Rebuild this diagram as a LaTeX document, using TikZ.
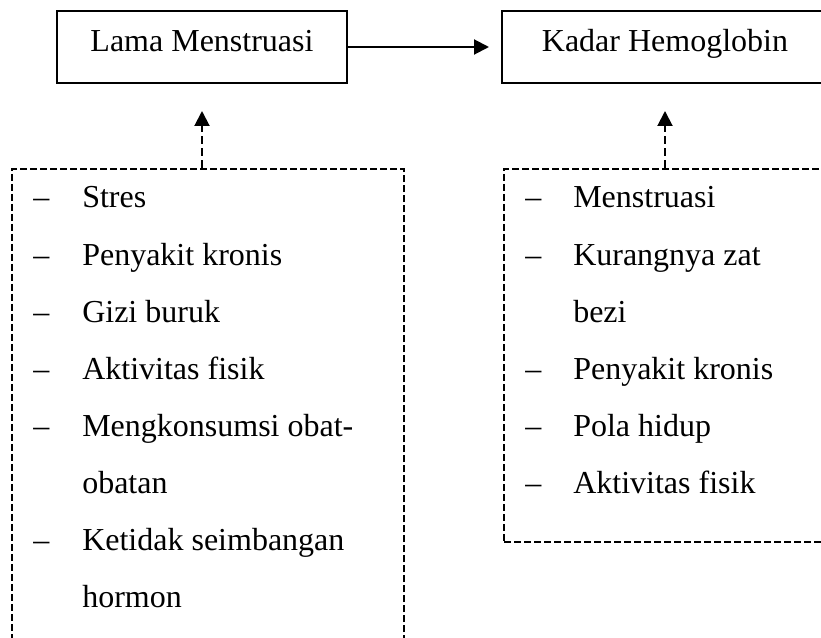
\documentclass[tikz,border=0pt]{standalone}
\usepackage{fontspec}
\setmainfont{Liberation Serif}
\usetikzlibrary{arrows.meta}

\tikzset{
  mainbox/.style={draw, line width=1.5pt, inner sep=0pt, text height=16.5pt, text depth=9pt, minimum height=54pt},
  factorbox/.style={draw, line width=1.5pt, dash pattern=on 5.25pt off 2.25pt, inner sep=0pt},
  item/.style={inner sep=0pt, anchor=base west},
  solidarrow/.style={line width=1.5pt, -{Triangle[length=11.25pt, width=11.25pt]}},
  dasharrow/.style={line width=1.5pt, dash pattern=on 6pt off 3pt, -{Triangle[length=11.25pt, width=11.25pt]}}
}

\begin{document}
\begin{tikzpicture}[x=0.75pt, y=-0.75pt, font=\fontsize{24pt}{28pt}\selectfont]
\useasboundingbox (0,0) rectangle (821,638);
\clip (0,0) rectangle (821,638);
    \node[mainbox, minimum width=217.5pt] (lama) at (202,47) {Lama Menstruasi};
    \node[mainbox, minimum width=244.5pt] (kadar) at (665,47) {Kadar Hemoglobin};
    \node[factorbox, minimum width=294pt, minimum height=368.25pt] (fkiri) at (208,414.5) {};
    \node[factorbox, minimum width=252pt, minimum height=279.75pt] (fkanan) at (672,355.5) {};
    % faktor lama menstruasi
    \foreach \r/\txt in {0/Stres, 1/Penyakit kronis, 2/Gizi buruk, 3/Aktivitas fisik, 4/Mengkonsumsi obat-, 6/Ketidak seimbangan}
    {
        \node[item] (dkiri\r) at (33,{208+57*\r}) {\textendash};
        \node[item] (kiri\r) at (82,{208+57*\r}) {\txt};
    }
    \node[item] (kiri5) at (82,493) {obatan};
    \node[item] (kiri7) at (82,607) {hormon};
    % faktor kadar hemoglobin
    \foreach \r/\txt in {0/Menstruasi, 1/Kurangnya zat, 3/Penyakit kronis, 4/Pola hidup, 5/Aktivitas fisik}
    {
        \node[item] (dkanan\r) at (525,{208+57*\r}) {\textendash};
        \node[item] (kanan\r) at (573,{208+57*\r}) {\txt};
    }
    \node[item] (kanan2) at (573,322) {bezi};
\draw[solidarrow, shorten >=9pt] (lama) -- (kadar);
\draw[dasharrow, shorten >=20.25pt] (fkiri.north -| lama.south) -- (lama.south);
\draw[dasharrow, shorten >=20.25pt] (fkanan.north -| kadar.south) -- (kadar.south);
\end{tikzpicture}
\end{document}
